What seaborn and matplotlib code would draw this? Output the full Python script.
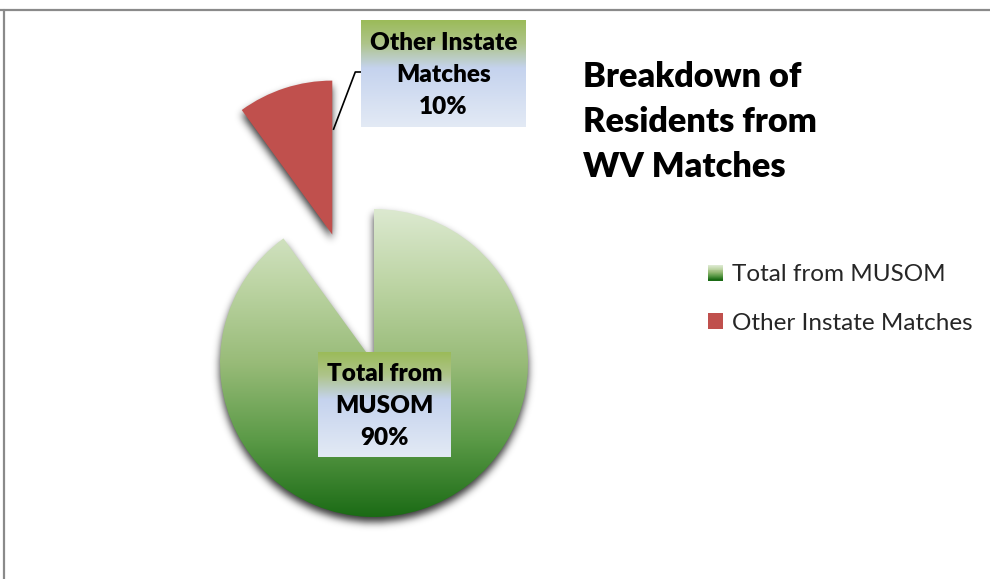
import numpy as np
import matplotlib
matplotlib.use("Agg")
import matplotlib.pyplot as plt
import seaborn as sns
from matplotlib.colors import LinearSegmentedColormap
from matplotlib.patches import Rectangle
from matplotlib.legend_handler import HandlerBase
from matplotlib.lines import Line2D

# ---- data ----
categories = ["Total from MUSOM", "Other Instate Matches"]
shares = [90, 10]
slice_names = ["Total from\nMUSOM", "Other Instate\nMatches"]
title_text = "Breakdown of\nResidents from\nWV Matches"

sns.set_theme(style="white")
plt.rcParams['font.family'] = ['Lato', 'DejaVu Sans']

W, H = 990, 579
fig = plt.figure(figsize=(W / 100, H / 100), dpi=100)
fig.patch.set_facecolor("white")
ax = fig.add_axes([0, 0, 1, 1])

CX, CY, R = 374, H - 363, 154
EXPLODE = [0, 135]
RED = "#c0504d"
green_cmap = LinearSegmentedColormap.from_list(
    "g", ["#dce9d0", "#bcd4a3", "#98bb78", "#5b9a47", "#1b6b15"])
box_cmap = LinearSegmentedColormap.from_list(
    "b", [(0, "#9bbb59"), (0.22, "#aec48a"), (0.45, "#c5d3ee"), (1, "#e3eaf5")])

wedges, _ = ax.pie(shares, explode=EXPLODE, startangle=90, counterclock=False,
                   radius=R, center=(CX, CY), colors=["#6ea050", RED],
                   wedgeprops=dict(linewidth=0, zorder=3))
ax.set_aspect('auto')
ax.set_xlim(0, W)
ax.set_ylim(0, H)
ax.axis('off')

# ---- soft drop shadow derived from the wedge shapes ----
yy, xx = np.mgrid[0:H, 0:W]
px = (xx + 0.5).ravel()
py = (H - (yy + 0.5)).ravel()
DY = 5
mask = np.zeros(H * W)
for w in wedges:
    path = w.get_patch_transform().transform_path(w.get_path())
    mask = np.maximum(mask, path.contains_points(np.column_stack([px, py + DY])))
mask = mask.reshape(H, W)


def blur(a, s):
    k = np.arange(-3 * s, 3 * s + 1)
    g = np.exp(-k ** 2 / (2.0 * s * s))
    g /= g.sum()
    a = np.apply_along_axis(lambda r: np.convolve(r, g, 'same'), 1, a)
    a = np.apply_along_axis(lambda c: np.convolve(c, g, 'same'), 0, a)
    return a


mask = blur(mask, 4)
shadow = np.zeros((H, W, 4))
shadow[..., 3] = 0.8 * mask
ax.imshow(shadow, extent=(0, W, 0, H), origin='upper', zorder=2,
          interpolation='bilinear', aspect='auto')

# ---- gradient fill for the large slice ----
grad = np.linspace(0, 1, 256)[:, None]
gw = wedges[0]
gw.set_facecolor('none')
im = ax.imshow(grad, cmap=green_cmap, extent=(CX - R, CX + R, CY - R, CY + R),
               origin='upper', aspect='auto', zorder=3, interpolation='bilinear')
im.set_clip_path(gw)
ax.set_xlim(0, W)
ax.set_ylim(0, H)


# ---- data label boxes ----
def label_box(x0, y0, x1, y1, text):
    # pixel coords (top-left origin)
    ax.imshow(grad, cmap=box_cmap, extent=(x0, x1, H - y1, H - y0), origin='upper',
              aspect='auto', zorder=5, interpolation='bilinear')
    ax.text((x0 + x1) / 2, H - (y0 + y1) / 2 - 1.5, text, ha='center', va='center',
            fontsize=17.5, fontweight='heavy', color='black', linespacing=1.58, zorder=6)


label_box(318, 352, 451, 457, f"{slice_names[0]}\n{shares[0]}%")
label_box(361, 20, 526, 127, f"{slice_names[1]}\n{shares[1]}%")
ax.set_xlim(0, W)
ax.set_ylim(0, H)

# leader line from red slice to its label
rw = wedges[1]
rc = rw.center
start = (rc[0] + 1, rc[1] + 0.68 * rw.r)
ax.plot([start[0], start[0] + 22, 361], [start[1], H - 72, H - 72],
        color='black', lw=1.2, zorder=4, solid_capstyle='butt')

# ---- title ----
fig.text(583 / W, 1 - 61 / H, title_text, ha='left', va='top', fontsize=24.7,
         fontweight='heavy', color='black', linespacing=1.5)


# ---- legend ----
class HandlerGradient(HandlerBase):
    def __init__(self, cmap, n=16):
        super().__init__()
        self.cmap, self.n = cmap, n

    def create_artists(self, legend, orig_handle, xdescent, ydescent, width,
                       height, fontsize, trans):
        arts = []
        for i in range(self.n):
            hh = height / self.n
            r = Rectangle((-xdescent, -ydescent + height - (i + 1) * hh), width, hh + 0.3,
                          facecolor=self.cmap(i / (self.n - 1)), edgecolor='none',
                          transform=trans)
            arts.append(r)
        return arts


leg = ax.legend(wedges, categories, loc='center left',
                bbox_to_anchor=(708 / W, 1 - 299 / H), frameon=False,
                borderaxespad=0, borderpad=0,
                fontsize=17.5, handlelength=0.6, handleheight=0.6,
                handletextpad=0.4, labelspacing=1.12,
                handler_map={wedges[0]: HandlerGradient(green_cmap)})
leg.set_zorder(7)

# ---- chart-area border (top and left edges visible) ----
fig.add_artist(Line2D([0, 1], [1 - 10 / H, 1 - 10 / H], transform=fig.transFigure,
                      color='#8a8a8a', lw=1.6))
fig.add_artist(Line2D([4 / W, 4 / W], [0, 1 - 10 / H], transform=fig.transFigure,
                      color='#8a8a8a', lw=1.6))

fig.savefig("out.png", dpi=100, facecolor='white')
